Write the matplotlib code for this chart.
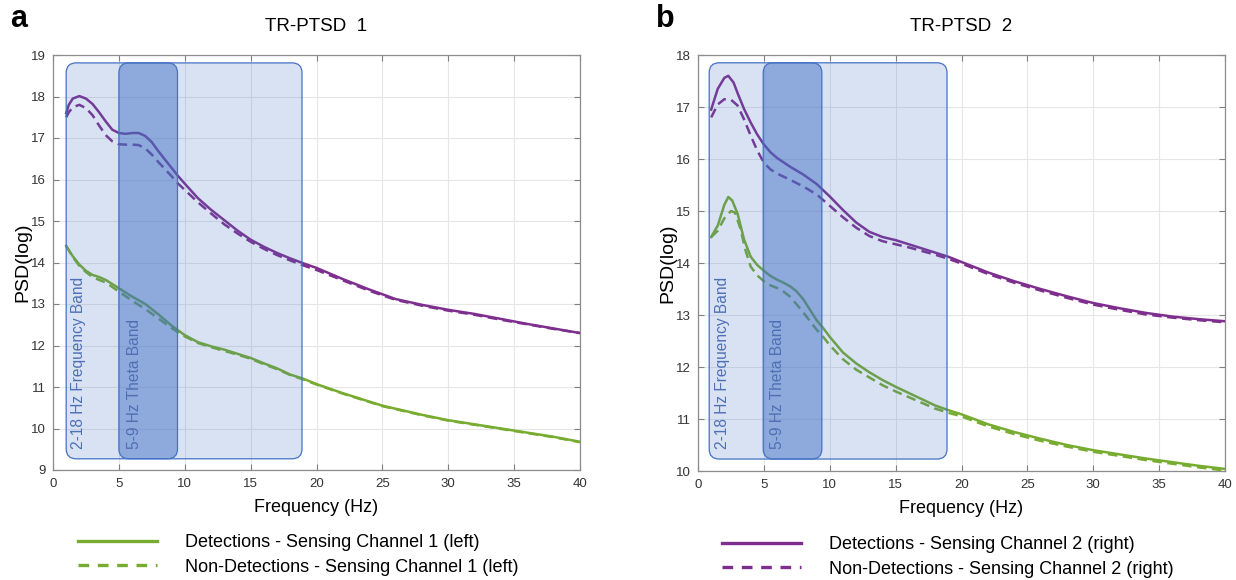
"""Mean PSD for detections vs non-detections, TR-PTSD subjects 1 and 2."""

import matplotlib

matplotlib.use("Agg")
import matplotlib.pyplot as plt
from matplotlib.lines import Line2D
from matplotlib.patches import FancyBboxPatch

plt.rcParams["font.family"] = ["Liberation Sans", "DejaVu Sans"]

GREEN = "#77AC30"
PURPLE = "#7E2F8E"
BAND_EDGE = "#4472C4"
BAND_TEXT = "#4F6FB5"

# ---- panel a : TR-PTSD 1 -------------------------------------------------
A_DET_G_HZ = [1.0, 1.5, 2.0, 2.5, 3.0, 3.5, 4.0, 5.0, 6.0, 7.0, 8.0, 9.0, 10, 11,
              12, 13, 14, 15, 16, 17, 18, 19, 20, 22, 25, 28, 30, 33, 35, 38, 40]
A_DET_G = [14.4, 14.15, 13.95, 13.8, 13.7, 13.65, 13.58, 13.38, 13.18, 13.0,
           12.75, 12.48, 12.25, 12.08, 11.98, 11.9, 11.8, 11.7, 11.57, 11.45,
           11.3, 11.2, 11.07, 10.85, 10.55, 10.33, 10.2, 10.05, 9.95, 9.8, 9.68]
A_NON_G = [14.4, 14.13, 13.92, 13.77, 13.65, 13.58, 13.52, 13.3, 13.08, 12.88,
           12.65, 12.42, 12.22, 12.06, 11.96, 11.87, 11.78, 11.68, 11.55, 11.43,
           11.29, 11.18, 11.06, 10.84, 10.54, 10.32, 10.19, 10.04, 9.94, 9.79, 9.67]

A_P_HZ = [1.0, 1.2, 1.5, 2.0, 2.5, 3.0, 3.5, 4.0, 4.5, 5.0, 5.5, 6.0, 6.5, 7.0,
          7.5, 8.0, 8.5, 9.0, 9.5, 10, 11, 12, 13, 14, 15, 16, 17, 18, 19, 20,
          22, 24, 26, 28, 30, 32, 34, 36, 38, 40]
A_DET_P = [17.6, 17.8, 17.95, 18.01, 17.95, 17.82, 17.62, 17.4, 17.2, 17.12,
           17.1, 17.12, 17.12, 17.05, 16.9, 16.68, 16.48, 16.28, 16.08, 15.9,
           15.55, 15.27, 15.02, 14.77, 14.55, 14.38, 14.23, 14.1, 13.98, 13.87,
           13.6, 13.35, 13.12, 12.98, 12.86, 12.76, 12.64, 12.52, 12.41, 12.3]
A_NON_P = [17.5, 17.62, 17.74, 17.8, 17.72, 17.55, 17.3, 17.07, 16.92, 16.85,
           16.84, 16.84, 16.83, 16.75, 16.6, 16.42, 16.25, 16.08, 15.9, 15.75,
           15.45, 15.18, 14.92, 14.7, 14.5, 14.33, 14.18, 14.05, 13.93, 13.82,
           13.57, 13.32, 13.1, 12.96, 12.84, 12.74, 12.62, 12.51, 12.4, 12.3]

# ---- panel b : TR-PTSD 2 -------------------------------------------------
B_DET_G_HZ = [1.0, 1.5, 2.0, 2.3, 2.6, 3.0, 3.5, 4.0, 4.5, 5.0, 5.5, 6.0, 6.5,
              7.0, 7.5, 8.0, 8.5, 9.0, 9.5, 10, 11, 12, 13, 14, 15, 16, 17, 18,
              19, 20, 22, 24, 26, 28, 30, 32, 34, 36, 38, 40]
B_DET_G = [14.5, 14.72, 15.12, 15.27, 15.2, 14.95, 14.45, 14.12, 13.96, 13.85,
           13.75, 13.68, 13.62, 13.55, 13.45, 13.3, 13.1, 12.9, 12.75, 12.58,
           12.28, 12.07, 11.9, 11.75, 11.62, 11.5, 11.38, 11.26, 11.17, 11.09,
           10.9, 10.75, 10.62, 10.5, 10.4, 10.32, 10.24, 10.17, 10.1, 10.04]
B_NON_G_HZ = [1.0, 1.5, 2.0, 2.5, 2.8, 3.2, 3.6, 4.0, 4.5, 5.0, 5.5, 6.0, 6.5,
              7.0, 7.5, 8.0, 8.5, 9.0, 9.5, 10, 11, 12, 13, 14, 15, 16, 17, 18,
              19, 20, 22, 24, 26, 28, 30, 32, 34, 36, 38, 40]
B_NON_G = [14.5, 14.62, 14.86, 15.0, 14.97, 14.68, 14.25, 13.93, 13.76, 13.65,
           13.57, 13.52, 13.45, 13.35, 13.2, 13.05, 12.88, 12.72, 12.58, 12.42,
           12.15, 11.95, 11.8, 11.65, 11.53, 11.42, 11.31, 11.2, 11.12, 11.05,
           10.86, 10.71, 10.58, 10.47, 10.37, 10.29, 10.21, 10.14, 10.07, 10.01]

B_DET_P_HZ = [1.0, 1.5, 2.0, 2.3, 2.7, 3.0, 3.5, 4.0, 4.5, 5.0, 5.5, 6.0, 7.0,
              8.0, 9.0, 10, 11, 12, 13, 14, 15, 16, 17, 18, 19, 20, 22, 24, 26,
              28, 30, 32, 34, 36, 38, 40]
B_DET_P = [16.95, 17.35, 17.56, 17.6, 17.47, 17.27, 16.96, 16.7, 16.47, 16.28,
           16.13, 16.02, 15.85, 15.7, 15.52, 15.28, 15.02, 14.78, 14.6, 14.5,
           14.44, 14.36, 14.28, 14.2, 14.12, 14.02, 13.82, 13.65, 13.5, 13.36,
           13.23, 13.13, 13.04, 12.97, 12.92, 12.88]
B_NON_P_HZ = [1.0, 1.5, 2.0, 2.5, 3.0, 3.5, 4.0, 4.5, 5.0, 5.5, 6.0, 7.0, 8.0,
              9.0, 10, 11, 12, 13, 14, 15, 16, 17, 18, 19, 20, 22, 24, 26, 28,
              30, 32, 34, 36, 38, 40]
B_NON_P = [16.8, 17.05, 17.15, 17.14, 17.03, 16.76, 16.45, 16.16, 15.93, 15.8,
           15.72, 15.6, 15.47, 15.32, 15.1, 14.88, 14.68, 14.52, 14.42, 14.36,
           14.3, 14.23, 14.16, 14.08, 13.99, 13.79, 13.62, 13.47, 13.33, 13.2,
           13.1, 13.01, 12.95, 12.9, 12.86]

FREQ_BAND_A = (1.0, 18.9, 9.27, 18.81)
THETA_BAND_A = (5.0, 9.45, 9.27, 18.81)
FREQ_BAND_B = (0.85, 18.9, 10.23, 17.85)
THETA_BAND_B = (4.95, 9.4, 10.23, 17.85)

W, H = 1236, 580
AX_W, AX_H = 527, 415


def band(ax, x0, x1, y0, y1, alpha, xppu, yppu):
    r_px = 10
    style = f"round,pad=0,rounding_size={r_px / xppu}"
    ax.add_patch(FancyBboxPatch(
        (x0, y0), x1 - x0, y1 - y0, boxstyle=style,
        mutation_aspect=xppu / yppu,
        facecolor=BAND_EDGE, alpha=alpha, edgecolor="none", zorder=5))
    ax.add_patch(FancyBboxPatch(
        (x0, y0), x1 - x0, y1 - y0, boxstyle=style,
        mutation_aspect=xppu / yppu,
        facecolor="none", edgecolor=BAND_EDGE, linewidth=0.9, zorder=6))


def panel(ax, title, ylim, yticks, curves, fband, tband, text_y, text_x):
    ax.set_xlim(0, 40)
    ax.set_ylim(*ylim)
    xppu = AX_W / 40
    yppu = AX_H / (ylim[1] - ylim[0])

    for hz, vals, color, ls in curves:
        line, = ax.plot(hz, vals, color=color, linewidth=1.8, zorder=3)
        if ls == "--":
            line.set_dashes((3.8, 2.2))

    band(ax, *fband, alpha=0.2, xppu=xppu, yppu=yppu)
    band(ax, *tband, alpha=0.5, xppu=xppu, yppu=yppu)
    ax.text(text_x[0], text_y, "2-18 Hz Frequency Band", rotation=90,
            ha="center", va="bottom", fontsize=11.2, color=BAND_TEXT, zorder=7)
    ax.text(text_x[1], text_y, "5-9 Hz Theta Band", rotation=90,
            ha="center", va="bottom", fontsize=11.2, color=BAND_TEXT, zorder=7)

    ax.set_xticks(range(0, 41, 5))
    ax.set_yticks(yticks)
    ax.grid(True, color="#e6e6e6", linewidth=0.8, zorder=0)
    ax.set_axisbelow(True)
    ax.tick_params(direction="in", top=True, right=True, length=4,
                   width=0.8, color="#808080", labelsize=9.5,
                   labelcolor="#333333")
    ax.tick_params(axis="x", pad=6)
    ax.tick_params(axis="y", pad=5)
    for sp in ax.spines.values():
        sp.set_color("#8c8c8c")
        sp.set_linewidth(0.9)

    ax.set_title(title, fontsize=13.5, pad=17)
    ax.set_xlabel("Frequency (Hz)", fontsize=13)
    ax.set_ylabel("PSD(log)", fontsize=14)
    ax.xaxis.set_label_coords(0.5, -(499 - 470) / AX_H)
    ax.yaxis.set_label_coords(-22 / AX_W, 0.5)


fig = plt.figure(figsize=(W / 100, H / 100), dpi=100)
ax_a = fig.add_axes([53 / W, (H - 470) / H, AX_W / W, AX_H / H])
ax_b = fig.add_axes([698 / W, (H - 471) / H, AX_W / W, 416 / H])

panel(ax_a, "TR-PTSD  1", (9, 19), range(9, 20),
      [(A_DET_G_HZ, A_DET_G, GREEN, "-"), (A_DET_G_HZ, A_NON_G, GREEN, "--"),
       (A_P_HZ, A_DET_P, PURPLE, "-"), (A_P_HZ, A_NON_P, PURPLE, "--")],
      FREQ_BAND_A, THETA_BAND_A, 9.5, (1.9, 6.2))
panel(ax_b, "TR-PTSD  2", (10, 18), range(10, 19),
      [(B_DET_G_HZ, B_DET_G, GREEN, "-"), (B_NON_G_HZ, B_NON_G, GREEN, "--"),
       (B_DET_P_HZ, B_DET_P, PURPLE, "-"), (B_NON_P_HZ, B_NON_P, PURPLE, "--")],
      FREQ_BAND_B, THETA_BAND_B, 10.42, (1.86, 6.0))

fig.text(10 / W, 1 - 4 / H, "a", fontsize=22, fontweight="bold", va="top")
fig.text(656 / W, 1 - 4 / H, "b", fontsize=22, fontweight="bold", va="top")


def legend_handles(color):
    solid = Line2D([], [], color=color, linewidth=2.4)
    dashed = Line2D([], [], color=color, linewidth=2.4, dashes=(3.2, 2.6))
    return [solid, dashed]


leg_kw = dict(loc="upper left", frameon=False, fontsize=13,
              handlelength=4.4, handletextpad=1.5, labelspacing=0.42,
              borderpad=0, borderaxespad=0)
fig.legend(legend_handles(GREEN),
           ["Detections - Sensing Channel 1 (left)",
            "Non-Detections - Sensing Channel 1 (left)"],
           bbox_to_anchor=(78 / W, 1 - 534 / H), **leg_kw)
fig.legend(legend_handles(PURPLE),
           ["Detections - Sensing Channel 2 (right)",
            "Non-Detections - Sensing Channel 2 (right)"],
           bbox_to_anchor=(722 / W, 1 - 536 / H), **leg_kw)

fig.savefig("out.png", dpi=100)
